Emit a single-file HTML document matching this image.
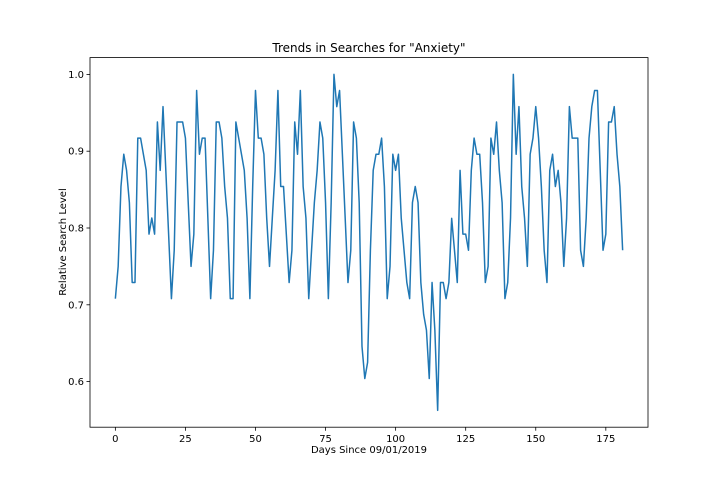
<!DOCTYPE html>
<html><head><meta charset="utf-8"><style>
body{margin:0;background:#fff;}
svg text{font-family:"DejaVu Sans","Liberation Sans",sans-serif;fill:#000;}
</style></head><body>
<svg id="chart" width="720" height="480" viewBox="0 0 720 480">
<rect width="720" height="480" fill="#fff"/>
<text x="369" y="52" font-size="12" text-anchor="middle">Trends in Searches for "Anxiety"</text>
<text x="369" y="453" font-size="10" text-anchor="middle">Days Since 09/01/2019</text>
<text transform="translate(66,242) rotate(-90)" font-size="10" text-anchor="middle">Relative Search Level</text>
<g id="ticks"></g>
<path id="series" fill="none" stroke="#1f77b4" stroke-width="1.5" stroke-linejoin="round"/>
<rect x="90" y="57.6" width="558" height="369.6" fill="none" stroke="#000" stroke-width="0.8"/>
</svg>
<script>
const searchLevels = [
.708,.75,.854,.896,.875,.833,.729,.729,.917,.917,
.896,.875,.792,.813,.792,.938,.875,.958,.875,.792,
.708,.771,.938,.938,.938,.917,.833,.75,.792,.979,
.896,.917,.917,.813,.708,.771,.938,.938,.917,.854,
.813,.708,.708,.938,.917,.896,.875,.813,.708,.854,
.979,.917,.917,.896,.813,.75,.813,.875,.979,.854,
.854,.792,.729,.771,.938,.896,.979,.854,.813,.708,
.771,.833,.875,.938,.917,.833,.708,.833,1.0,.958,
.979,.896,.813,.729,.771,.938,.917,.833,.646,.604,
.625,.771,.875,.896,.896,.917,.854,.708,.75,.896,
.875,.896,.813,.771,.729,.708,.833,.854,.833,.729,
.6875,.667,.604,.729,.667,.5625,.729,.729,.708,.729,
.8125,.771,.729,.875,.792,.792,.771,.875,.917,.896,
.896,.833,.729,.75,.917,.896,.938,.875,.833,.708,
.729,.813,1.0,.896,.958,.854,.813,.75,.896,.917,
.958,.917,.854,.771,.729,.875,.896,.854,.875,.833,
.75,.813,.958,.917,.917,.917,.771,.75,.813,.917,
.958,.979,.979,.875,.771,.792,.938,.938,.958,.896,
.854,.771
];
const xTickValues = [0,25,50,75,100,125,150,175];
const yTickValues = [0.6,0.7,0.8,0.9,1.0];
const yTickLabels = ["0.6","0.7","0.8","0.9","1.0"];

const L=90,R=648,T=57.6,B=427.2;
const n=searchLevels.length;
const xmin=-(n-1)*0.05, xmax=(n-1)*1.05;
const dmin=Math.min(...searchLevels), dmax=Math.max(...searchLevels), pad=(dmax-dmin)*0.05;
const ymin=dmin-pad, ymax=dmax+pad;
const xs=d=>L+(d-xmin)/(xmax-xmin)*(R-L);
const ys=v=>B-(v-ymin)/(ymax-ymin)*(B-T);
const NS="http://www.w3.org/2000/svg";
const g=document.getElementById('ticks');
function mk(tag,attrs){const e=document.createElementNS(NS,tag);for(const k in attrs)e.setAttribute(k,attrs[k]);return e;}
xTickValues.forEach(t=>{
  const x=xs(t);
  const ln=mk('line',{x1:x,x2:x,y1:B,y2:B+3.5,stroke:'#000','stroke-width':0.8});
  
  
  g.appendChild(ln);
  const tx=mk('text',{x:x,y:B+15,'font-size':10,'text-anchor':'middle'});
  tx.textContent=String(t);
  
  
  g.appendChild(tx);
});
yTickValues.forEach((t,i)=>{
  const y=ys(t);
  const ln=mk('line',{x1:L-3.5,x2:L,y1:y,y2:y,stroke:'#000','stroke-width':0.8});
  
  
  g.appendChild(ln);
  const tx=mk('text',{x:L-6,y:y+3.5,'font-size':10,'text-anchor':'end'});
  tx.textContent=yTickLabels[i];
  
  
  g.appendChild(tx);
});
document.getElementById('series').setAttribute('d',searchLevels.map((v,i)=>(i?'L':'M')+xs(i).toFixed(2)+','+ys(v).toFixed(2)).join(''));
</script>
</body></html>
